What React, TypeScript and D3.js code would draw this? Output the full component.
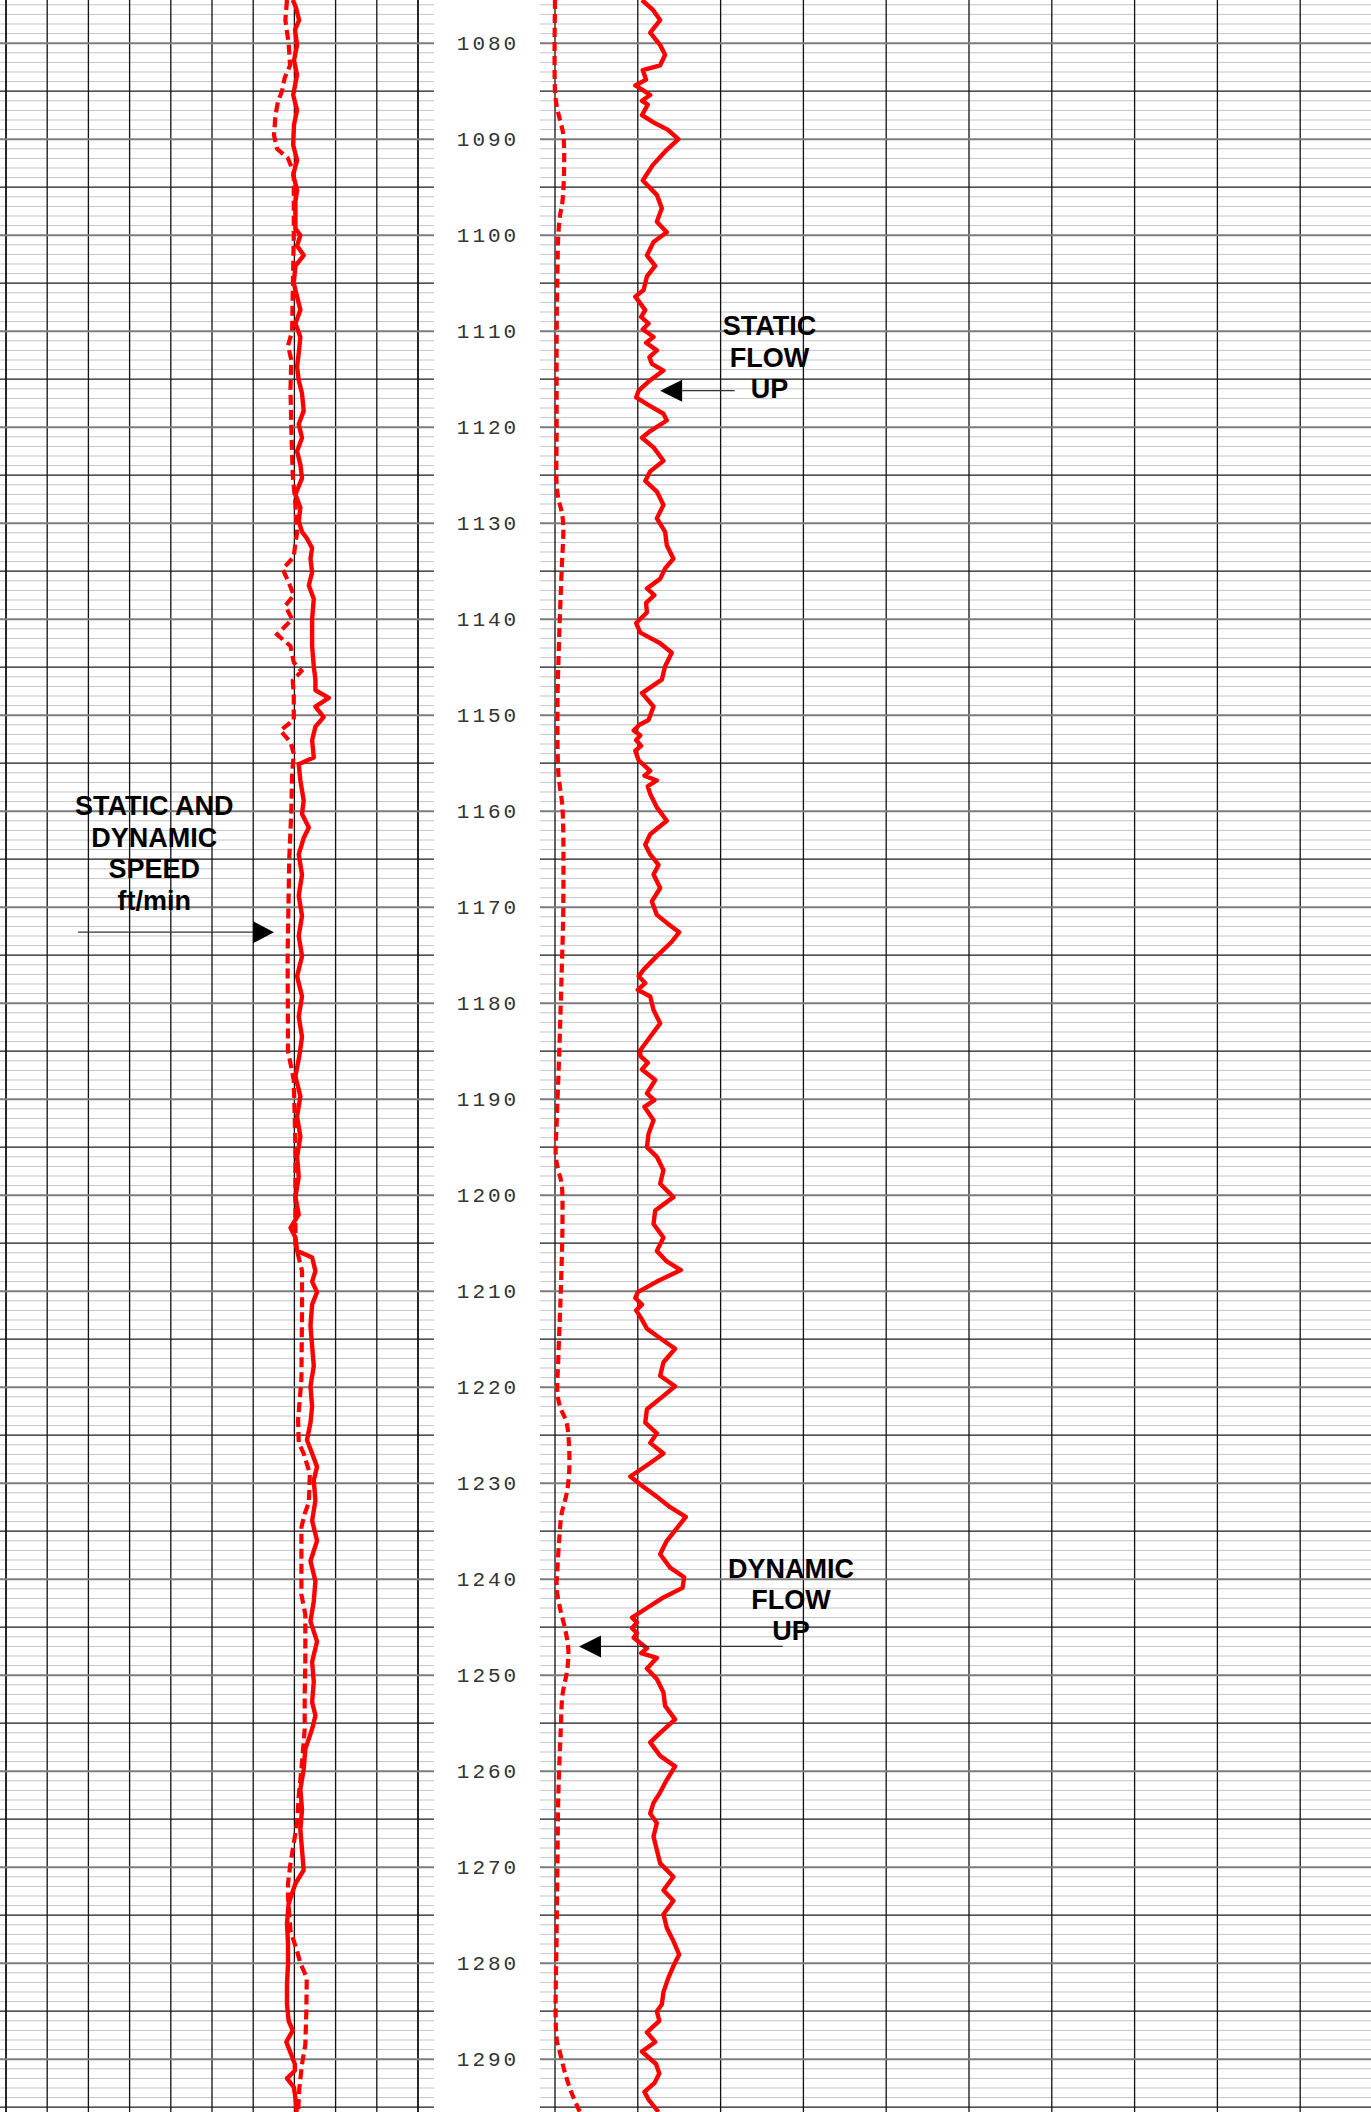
import React, { useEffect } from 'react';
import * as d3 from 'd3';

const WIDTH = 1371;
const HEIGHT = 2112;

const depthTop = 1075.5;
const depthBottom = 1295.5;

const depthLabels = [1080, 1090, 1100, 1110, 1120, 1130, 1140, 1150, 1160, 1170, 1180, 1190, 1200, 1210, 1220, 1230, 1240, 1250, 1260, 1270, 1280, 1290];

// left track, ft/min: [depth, value]
const staticSpeed: [number, number][] = [
  [1075.5, -0.8], [1076.3, 0.8], [1077.6, 2.3], [1078.6, 0.3], [1080.2, 1.3], [1081.8, -0.2], [1083.3, 1.3],
  [1085.4, -0.6], [1087.0, 1.3], [1088.5, -0.2], [1090.6, -0.6], [1092.2, 1.3], [1093.7, -0.6], [1095.3, 1.3],
  [1096.5, 0.5], [1099.3, 0.5], [1100.0, 2.9], [1101.1, 1.3], [1102.1, 4.5], [1103.2, 0.5], [1105.0, -0.3],
  [1106.4, 1.3], [1107.8, 2.9], [1109.2, 0.5], [1110.6, 2.9], [1112.3, 2.1], [1113.7, 1.3], [1115.1, 2.1],
  [1116.5, 3.7], [1118.3, 4.5], [1119.7, 2.1], [1121.1, 3.7], [1122.5, 1.3], [1123.9, 2.9], [1125.3, 3.7],
  [1127.0, 0.5], [1128.4, 2.9], [1129.8, 2.1], [1130.9, 3.7], [1131.6, 6.1], [1132.6, 8.6], [1133.7, 7.8],
  [1135.1, 8.6], [1136.5, 7.0], [1137.9, 9.4], [1140.0, 8.6], [1142.8, 8.6], [1144.9, 9.4], [1146.3, 10.2],
  [1147.4, 10.2], [1148.2, 16.7], [1149.1, 10.2], [1150.2, 14.2], [1151.2, 10.2], [1152.6, 8.6], [1154.4, 9.4],
  [1155.1, 2.1], [1156.8, 2.9], [1158.9, 4.5], [1160.3, 3.7], [1161.7, 7.0], [1162.8, 4.5], [1164.5, 2.1],
  [1166.6, 3.7], [1168.8, 2.1], [1170.9, 3.7], [1173.0, 2.1], [1175.1, 3.7], [1177.2, 1.3], [1179.3, 3.7],
  [1181.4, 2.1], [1183.5, 3.7], [1185.5, 2.4], [1187.6, 0.5], [1189.7, 2.9], [1191.8, 1.3], [1193.9, 2.9],
  [1196.0, 1.3], [1198.1, 2.1], [1200.2, 0.5], [1202.0, 2.1], [1203.4, -1.9], [1204.4, 0.5], [1205.8, 1.3],
  [1206.5, 8.6], [1207.9, 10.2], [1209.0, 8.6], [1210.1, 11.0], [1211.4, 8.6], [1213.6, 7.8], [1215.7, 8.6],
  [1217.8, 9.4], [1219.9, 7.8], [1222.0, 8.6], [1223.7, 7.8], [1225.5, 6.1], [1226.9, 8.6], [1228.3, 11.0],
  [1229.7, 9.4], [1231.8, 10.2], [1233.9, 8.6], [1236.0, 11.0], [1238.1, 7.8], [1240.2, 10.2], [1242.3, 9.4],
  [1244.4, 7.8], [1246.5, 11.0], [1248.6, 8.6], [1250.7, 9.4], [1252.8, 8.6], [1254.2, 10.2], [1255.6, 8.6],
  [1257.7, 5.3], [1259.8, 4.5], [1261.9, 2.9], [1264.0, 3.7], [1266.1, 2.9], [1268.2, 3.7], [1270.3, 4.5],
  [1271.7, 0.5], [1273.8, -2.8], [1275.9, -3.6], [1278.0, -3.1], [1280.1, -3.1], [1282.2, -3.6], [1284.3, -3.6],
  [1286.0, -2.8], [1287.0, -0.8], [1288.2, -3.9], [1290.5, 0.2], [1291.2, 0.2], [1292.0, -3.6], [1292.9, -0.3],
  [1294.0, 0.5], [1295.5, 1.1],
];

const dynamicSpeed: [number, number][] = [
  [1075.5, -3.6], [1077.6, -4.4], [1080.0, -2.8], [1082.3, -2.1], [1083.6, -4.7], [1085.0, -6.0], [1086.0, -7.9],
  [1087.5, -9.2], [1089.6, -9.9], [1091.0, -8.4], [1092.0, -3.1], [1093.5, -0.3], [1100.0, -0.3], [1106.0, -0.8],
  [1110.0, -1.1], [1111.5, -3.1], [1113.0, -1.5], [1116.0, -1.9], [1120.0, -1.5], [1125.0, -0.8], [1128.0, 0.5],
  [1131.0, 1.3], [1132.0, 0.5], [1133.5, -0.3], [1134.8, -5.7], [1136.0, -3.1], [1137.5, -0.3], [1138.6, -4.4],
  [1140.0, -1.1], [1141.6, -8.4], [1142.8, -1.9], [1144.5, -0.3], [1145.4, 3.4], [1146.4, -0.8], [1148.0, -0.3],
  [1150.5, -0.3], [1151.6, -6.8], [1152.8, -1.9], [1154.0, -0.3], [1156.0, -1.1], [1160.0, -1.5], [1165.0, -2.5],
  [1175.0, -3.3], [1185.0, -3.1], [1188.0, -0.3], [1195.0, 0.5], [1201.6, 0.5], [1205.1, 0.5], [1206.5, 2.1],
  [1207.9, 3.7], [1212.0, 3.7], [1219.2, 3.4], [1223.4, 1.8], [1225.8, 2.1], [1226.9, 4.5], [1229.0, 7.5],
  [1232.0, 7.0], [1233.2, 5.0], [1234.6, 3.4], [1241.6, 3.4], [1243.7, 5.3], [1248.6, 5.3], [1252.0, 5.0],
  [1255.6, 5.0], [1259.1, 3.7], [1262.6, 2.1], [1265.4, 1.3], [1267.5, -0.3], [1269.6, -1.9], [1271.7, -3.1],
  [1273.1, -3.1], [1276.6, -1.9], [1278.6, 1.1], [1280.0, 2.9], [1281.5, 6.0], [1285.0, 5.8], [1288.5, 5.3],
  [1290.5, 3.7], [1293.0, 2.4], [1295.5, 1.8],
];

// right track, flowmeter: [depth, value]
const staticFlow: [number, number][] = [
  [1075.5, 1.05], [1076.5, 1.18], [1077.6, 1.27], [1078.9, 1.15], [1080.2, 1.27], [1081.2, 1.33], [1082.3, 1.27],
  [1082.8, 1.06], [1083.8, 1.10], [1084.4, 0.97], [1085.0, 1.08], [1085.4, 1.15], [1086.0, 1.05], [1086.4, 1.12],
  [1087.5, 1.05], [1088.2, 1.18], [1089.0, 1.36], [1090.0, 1.49], [1091.1, 1.35], [1092.7, 1.18], [1094.3, 1.06],
  [1095.8, 1.23], [1097.2, 1.29], [1098.6, 1.23], [1099.7, 1.35], [1100.7, 1.19], [1102.1, 1.11], [1103.2, 1.21],
  [1104.3, 1.11], [1105.7, 1.07], [1106.4, 0.97], [1107.8, 1.09], [1108.5, 1.04], [1109.2, 1.13], [1109.8, 1.06],
  [1110.6, 1.19], [1111.2, 1.10], [1112.0, 1.23], [1112.7, 1.14], [1113.4, 1.17], [1114.1, 1.31], [1115.1, 1.15],
  [1116.2, 1.01], [1116.9, 0.98], [1117.6, 1.11], [1118.6, 1.31], [1119.3, 1.35], [1120.4, 1.15], [1121.1, 1.05],
  [1122.1, 1.19], [1123.5, 1.31], [1124.6, 1.15], [1125.6, 1.09], [1126.7, 1.23], [1128.1, 1.31], [1129.5, 1.23],
  [1130.9, 1.33], [1132.3, 1.35], [1133.7, 1.43], [1134.7, 1.33], [1135.8, 1.27], [1136.8, 1.11], [1137.5, 1.20],
  [1138.3, 1.10], [1139.3, 1.11], [1140.4, 0.98], [1141.4, 1.03], [1142.5, 1.27], [1143.5, 1.41], [1144.9, 1.33],
  [1146.3, 1.29], [1147.7, 1.05], [1149.1, 1.19], [1150.5, 1.13], [1151.0, 1.02], [1151.6, 0.95], [1152.1, 1.03],
  [1152.6, 0.98], [1153.2, 1.04], [1153.7, 0.97], [1154.7, 1.01], [1155.8, 1.15], [1156.3, 1.08], [1156.8, 1.23],
  [1157.4, 1.12], [1158.2, 1.15], [1159.6, 1.23], [1161.0, 1.35], [1162.4, 1.15], [1163.5, 1.09], [1164.5, 1.15],
  [1165.6, 1.25], [1166.6, 1.19], [1168.0, 1.27], [1169.4, 1.17], [1170.8, 1.23], [1171.9, 1.39], [1172.6, 1.50],
  [1173.6, 1.41], [1175.1, 1.23], [1176.5, 1.07], [1177.2, 1.01], [1177.9, 1.09], [1178.6, 1.00], [1179.3, 1.15],
  [1180.7, 1.19], [1182.1, 1.27], [1183.5, 1.15], [1184.9, 1.03], [1185.5, 1.03], [1186.2, 1.12], [1186.9, 1.05],
  [1188.0, 1.21], [1189.4, 1.11], [1190.1, 1.20], [1190.8, 1.08], [1192.2, 1.19], [1193.6, 1.13], [1195.0, 1.11],
  [1196.0, 1.23], [1197.4, 1.31], [1198.8, 1.27], [1200.2, 1.43], [1201.6, 1.21], [1203.0, 1.19], [1204.4, 1.31],
  [1205.8, 1.23], [1206.9, 1.35], [1207.8, 1.52], [1209.0, 1.23], [1210.1, 1.00], [1210.7, 0.97], [1211.4, 1.05],
  [1212.0, 0.98], [1212.8, 1.04], [1213.9, 1.11], [1214.9, 1.27], [1216.0, 1.45], [1217.4, 1.31], [1218.8, 1.27],
  [1219.9, 1.45], [1220.9, 1.31], [1222.3, 1.11], [1223.7, 1.09], [1224.8, 1.23], [1225.8, 1.15], [1226.9, 1.31],
  [1227.9, 1.15], [1229.3, 0.91], [1230.4, 1.07], [1231.4, 1.23], [1232.5, 1.39], [1233.5, 1.58], [1234.6, 1.48],
  [1236.0, 1.35], [1237.4, 1.27], [1238.8, 1.39], [1239.8, 1.56], [1240.9, 1.54], [1241.9, 1.31], [1243.0, 1.11],
  [1244.0, 0.93], [1244.5, 0.99], [1245.1, 0.93], [1245.6, 0.99], [1246.1, 0.95], [1247.2, 1.11], [1247.7, 1.04],
  [1248.2, 1.23], [1249.3, 1.11], [1250.4, 1.23], [1251.8, 1.31], [1253.2, 1.33], [1254.6, 1.45], [1256.0, 1.27],
  [1257.0, 1.15], [1258.4, 1.27], [1259.5, 1.45], [1260.9, 1.35], [1262.2, 1.27], [1263.3, 1.19], [1264.4, 1.15],
  [1265.4, 1.23], [1266.8, 1.19], [1268.2, 1.23], [1269.6, 1.27], [1271.0, 1.43], [1272.4, 1.31], [1273.5, 1.43],
  [1274.9, 1.31], [1276.3, 1.35], [1277.7, 1.43], [1279.1, 1.50], [1280.3, 1.43], [1281.5, 1.37], [1283.0, 1.31],
  [1284.3, 1.29], [1285.0, 1.23], [1286.0, 1.26], [1287.2, 1.11], [1288.2, 1.21], [1289.2, 1.05], [1290.5, 1.22],
  [1291.5, 1.26], [1292.5, 1.20], [1293.4, 1.08], [1294.2, 1.13], [1295.5, 1.25],
];

const dynamicFlow: [number, number][] = [
  [1075.5, 0.0], [1085.0, 0.0], [1086.5, 0.02], [1088.0, 0.06], [1089.5, 0.10], [1093.0, 0.11], [1096.5, 0.09],
  [1098.0, 0.06], [1100.0, 0.04], [1103.6, 0.03], [1110.0, 0.02], [1120.0, 0.02], [1126.0, 0.02], [1127.4, 0.04],
  [1128.8, 0.08], [1130.2, 0.10], [1135.0, 0.08], [1142.0, 0.05], [1149.0, 0.03], [1156.0, 0.04], [1157.5, 0.06],
  [1159.6, 0.09], [1170.0, 0.10], [1177.0, 0.08], [1185.5, 0.05], [1192.5, 0.02], [1196.0, 0.01], [1197.4, 0.04],
  [1198.8, 0.08], [1203.0, 0.09], [1210.0, 0.07], [1217.0, 0.04], [1220.6, 0.03], [1222.0, 0.06], [1223.7, 0.14],
  [1226.2, 0.17], [1229.0, 0.17], [1231.1, 0.14], [1233.2, 0.08], [1236.0, 0.05], [1238.8, 0.03], [1240.9, 0.02],
  [1243.0, 0.06], [1245.1, 0.12], [1247.2, 0.16], [1249.3, 0.15], [1252.1, 0.09], [1255.6, 0.07], [1262.6, 0.04],
  [1269.6, 0.03], [1276.6, 0.02], [1287.9, 0.02], [1289.3, 0.06], [1291.4, 0.12], [1293.5, 0.20], [1295.5, 0.30],
];

const speedLabel = ['STATIC AND', 'DYNAMIC', 'SPEED', 'ft/min'];
const staticFlowLabel = ['STATIC', 'FLOW', 'UP'];
const dynamicFlowLabel = ['DYNAMIC', 'FLOW', 'UP'];

export default function App() {
  useEffect(() => {
    document.body.style.margin = '0';
  }, []);

  const y = d3.scaleLinear().domain([depthTop, depthBottom]).range([0, HEIGHT]);
  const xSpeed = d3.scaleLinear().domain([-140, 60]).range([6, 418]);
  const xFlow = d3.scaleLinear().domain([0, 10]).range([555, 1383]);

  const leftTrack = [0, 434];
  const rightTrack = [540, WIDTH];

  const gridDepths = d3.range(Math.ceil(depthTop), Math.floor(depthBottom) + 1);
  const minor = gridDepths.filter(d => d % 5 !== 0);
  const mid = gridDepths.filter(d => d % 5 === 0 && d % 10 !== 0);
  const major = gridDepths.filter(d => d % 10 === 0);

  const speedTicks = d3.range(-140, 61, 20);
  const flowTicks = d3.range(0, 10, 1);

  const speedLine = d3.line<[number, number]>()
    .x(d => xSpeed(d[1]))
    .y(d => y(d[0]));
  const flowLine = d3.line<[number, number]>()
    .x(d => xFlow(d[1]))
    .y(d => y(d[0]));
  const flowSmooth = d3.line<[number, number]>()
    .x(d => xFlow(d[1]))
    .y(d => y(d[0]))
    .curve(d3.curveCatmullRom);

  const hLines = (depths: number[], stroke: string, w: number) =>
    depths.map(d => (
      <g key={`${stroke}-${d}`}>
        <line x1={leftTrack[0]} x2={leftTrack[1]} y1={y(d)} y2={y(d)} stroke={stroke} strokeWidth={w} />
        <line x1={rightTrack[0]} x2={rightTrack[1]} y1={y(d)} y2={y(d)} stroke={stroke} strokeWidth={w} />
      </g>
    ));

  const labelFont = { fontFamily: '"Liberation Sans", Arial, sans-serif', fontWeight: 700, fontSize: 27 };

  // annotation anchors, in data units
  const sArrowY = y(1172.6);
  const sTip = xSpeed(-9.9);
  const sBase = sTip - 21;

  const stY = y(1116.2);
  const stTip = xFlow(1.27);
  const dyY = y(1247.0);
  const dyTip = xFlow(0.29);

  return (
    <svg width={WIDTH} height={HEIGHT} style={{ position: 'absolute', left: 0, top: 0, background: '#fff' }}>
      <rect x={0} y={0} width={WIDTH} height={HEIGHT} fill="#fff" />
      {hLines(minor, '#c4c4c4', 1)}
      {speedTicks.map((t, i) => (
        <line key={`vs${t}`} x1={xSpeed(t)} x2={xSpeed(t)} y1={0} y2={HEIGHT}
          stroke="#111" strokeWidth={i === 0 || i === speedTicks.length - 1 ? 1.8 : 1.3} />
      ))}
      {flowTicks.map(t => (
        <line key={`vf${t}`} x1={xFlow(t)} x2={xFlow(t)} y1={0} y2={HEIGHT}
          stroke="#111" strokeWidth={1.3} />
      ))}
      {hLines(mid, '#1a1a1a', 1.3)}
      {hLines(major, '#7c7c7c', 2)}

      {depthLabels.map(d => (
        <text key={`dl${d}`} x={488} y={y(d) + 1} textAnchor="middle" dominantBaseline="central"
          fontFamily='"Liberation Mono", "DejaVu Sans Mono", monospace' fontSize={21} letterSpacing={3} fill="#333">
          {d}
        </text>
      ))}

      <path d={speedLine(dynamicSpeed) || ''} fill="none" stroke="#ff0000" strokeWidth={4.2} strokeDasharray="10 5" />
      <path d={speedLine(staticSpeed) || ''} fill="none" stroke="#ff0000" strokeWidth={4.4} strokeLinejoin="round" />
      <path d={flowSmooth(dynamicFlow) || ''} fill="none" stroke="#ff0000" strokeWidth={4.2} strokeDasharray="9 5" />
      <path d={flowLine(staticFlow) || ''} fill="none" stroke="#ff0000" strokeWidth={4.4} strokeLinejoin="round" />

      {/* speed annotation */}
      <g {...labelFont} textAnchor="middle" fill="#000">
        {speedLabel.map((t, i) => (
          <text key={t} x={xSpeed(-68)} y={y(1160.4) + i * 31.7}>{t}</text>
        ))}
      </g>
      <line x1={xSpeed(-105)} x2={sBase} y1={sArrowY} y2={sArrowY} stroke="#333" strokeWidth={1.2} />
      <path d={`M${sTip},${sArrowY}L${sBase},${sArrowY - 11}L${sBase},${sArrowY + 11}Z`} fill="#000" />

      {/* static flow annotation */}
      <g {...labelFont} textAnchor="middle" fill="#000">
        {staticFlowLabel.map((t, i) => (
          <text key={t} x={xFlow(2.59)} y={y(1110.4) + i * 31.5}>{t}</text>
        ))}
      </g>
      <line x1={stTip + 22} x2={xFlow(2.17)} y1={stY} y2={stY} stroke="#333" strokeWidth={1.2} />
      <path d={`M${stTip},${stY}L${stTip + 22},${stY - 11}L${stTip + 22},${stY + 11}Z`} fill="#000" />

      {/* dynamic flow annotation */}
      <g {...labelFont} textAnchor="middle" fill="#000">
        {dynamicFlowLabel.map((t, i) => (
          <text key={t} x={xFlow(2.85)} y={y(1239.9) + i * 31}>{t}</text>
        ))}
      </g>
      <line x1={dyTip + 22} x2={xFlow(2.75)} y1={dyY} y2={dyY} stroke="#333" strokeWidth={1.2} />
      <path d={`M${dyTip},${dyY}L${dyTip + 22},${dyY - 11}L${dyTip + 22},${dyY + 11}Z`} fill="#000" />
    </svg>
  );
}
